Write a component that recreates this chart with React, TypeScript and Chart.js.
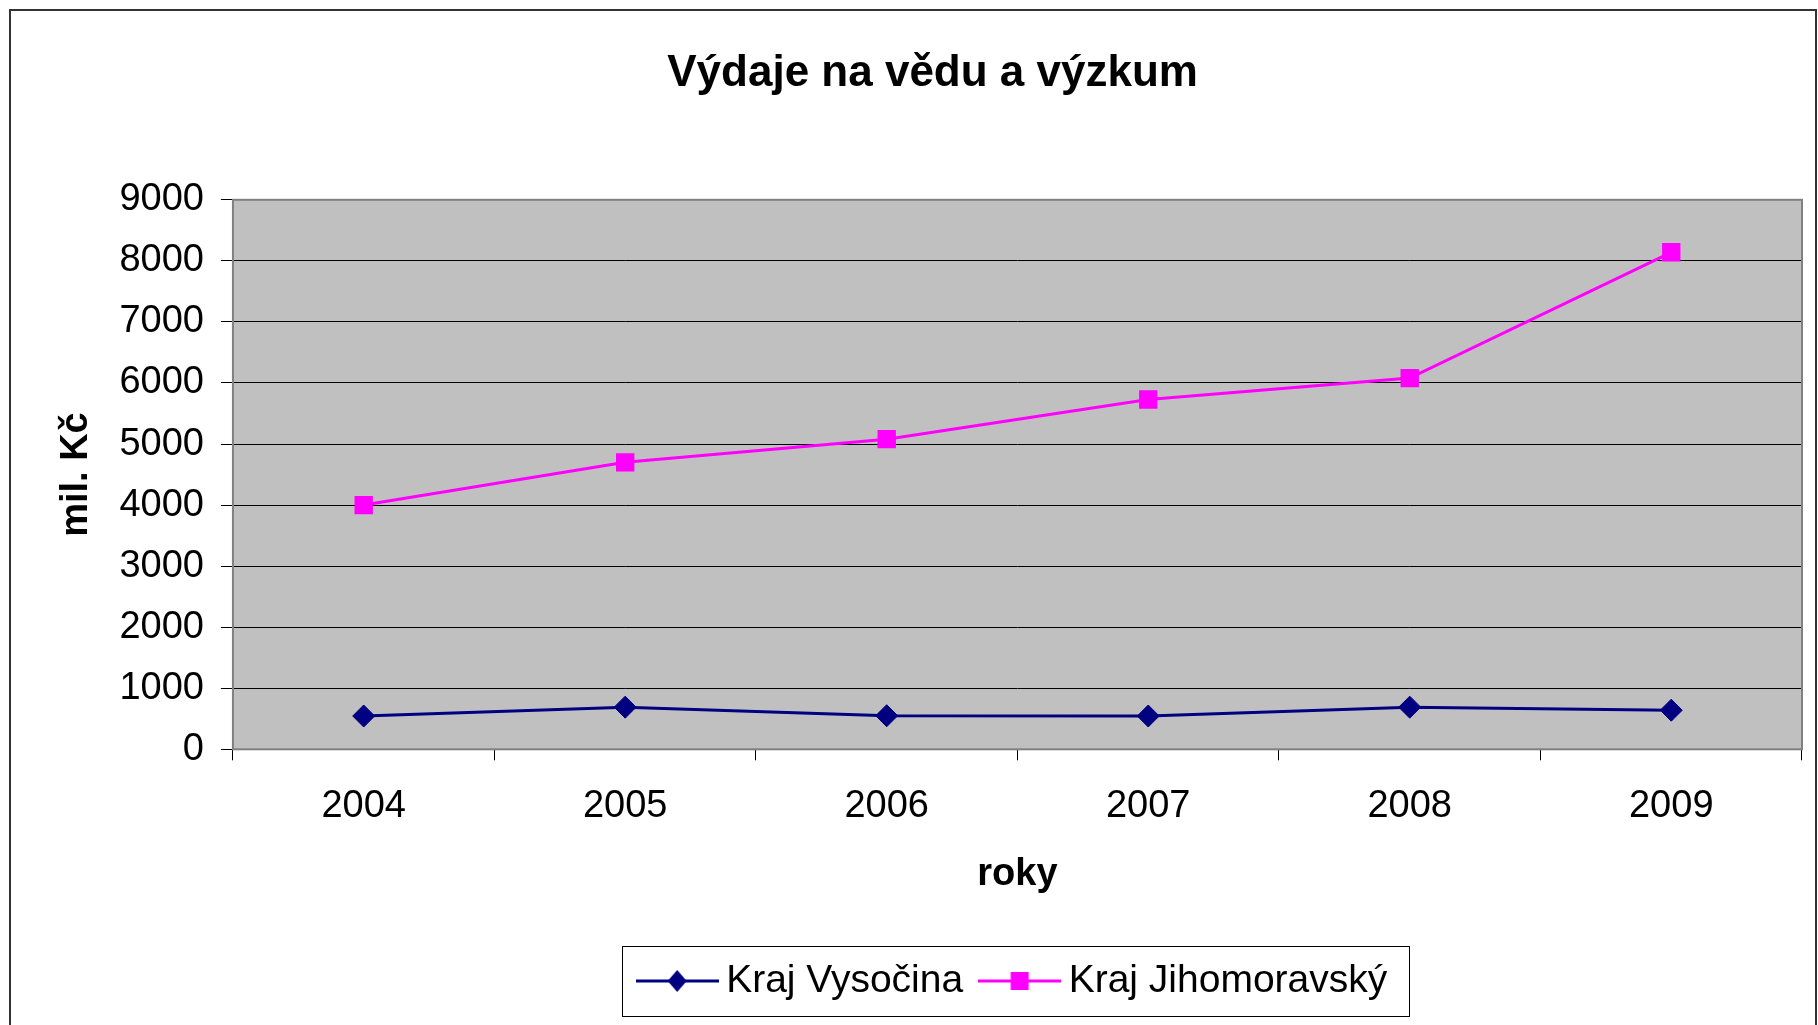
import React, { useEffect, useRef } from 'react';
import { Chart, registerables } from 'chart.js';

Chart.register(...registerables);

// ---- data ----
const years = ['2004', '2005', '2006', '2007', '2008', '2009'];
const vysocina = [545, 690, 550, 545, 690, 640];
const jihomoravsky = [4000, 4700, 5080, 5730, 6080, 8140];
const seriesNames = ['Kraj Vysočina', 'Kraj Jihomoravský'];
const chartTitle = 'Výdaje na vědu a výzkum';
const xAxisTitle = 'roky';
const yAxisTitle = 'mil. Kč';
const yMin = 0;
const yMax = 9000;
const yStep = 1000;

// ---- style ----
const FONT = '"Liberation Sans", Arial, Helvetica, sans-serif';
const NAVY = '#000080';
const MAGENTA = '#FF00FF';
const PLOT_BG = '#C0C0C0';
const PLOT_BORDER = '#808080';

function makeSample(color: string, kind: 'diamond' | 'square'): HTMLCanvasElement {
  const c = document.createElement('canvas');
  c.width = 83;
  c.height = 26;
  const ctx = c.getContext('2d')!;
  ctx.strokeStyle = color;
  ctx.lineWidth = 3;
  ctx.beginPath();
  ctx.moveTo(0, 13);
  ctx.lineTo(83, 13);
  ctx.stroke();
  ctx.fillStyle = color;
  ctx.beginPath();
  if (kind === 'diamond') {
    ctx.moveTo(41.5, 2);
    ctx.lineTo(51, 13);
    ctx.lineTo(41.5, 24);
    ctx.lineTo(32, 13);
    ctx.closePath();
  } else {
    ctx.rect(41.5 - 9, 13 - 9, 18, 18);
  }
  ctx.fill();
  return c;
}

const decoPlugin = {
  id: 'decoPlugin',
  beforeDraw(chart: any) {
    const { ctx, chartArea } = chart;
    const { left, top, right, bottom } = chartArea;
    ctx.save();
    ctx.fillStyle = PLOT_BG;
    ctx.fillRect(left, top, right - left, bottom - top);
    ctx.restore();
  },
  beforeDatasetsDraw(chart: any) {
    const { ctx, chartArea } = chart;
    const { left, top, right, bottom } = chartArea;
    ctx.save();
    ctx.strokeStyle = PLOT_BORDER;
    ctx.lineWidth = 2;
    ctx.strokeRect(left, top, right - left, bottom - top);
    ctx.restore();
  },
  afterDraw(chart: any) {
    const legend = chart.legend;
    if (!legend || !legend.legendHitBoxes || !legend.legendHitBoxes.length) return;
    const hb = legend.legendHitBoxes;
    const first = hb[0];
    const last = hb[hb.length - 1];
    const l = Math.round(first.left - 26) + 0.5;
    const r = Math.round(last.left + last.width + 22) + 0.5;
    const t = Math.round(first.top - 15.5) + 0.5;
    const b = Math.round(first.top + first.height + 15.5) + 0.5;
    const { ctx } = chart;
    ctx.save();
    ctx.strokeStyle = '#000';
    ctx.lineWidth = 1;
    ctx.strokeRect(l, t, r - l, b - t);
    ctx.restore();
  },
};

export default function App() {
  const ref = useRef<HTMLCanvasElement | null>(null);

  useEffect(() => {
    if (!ref.current) return;
    const samples = [makeSample(NAVY, 'diamond'), makeSample(MAGENTA, 'square')];
    const chart = new Chart(ref.current, {
      type: 'line',
      data: {
        labels: years,
        datasets: [
          {
            label: seriesNames[0],
            data: vysocina,
            borderColor: NAVY,
            backgroundColor: NAVY,
            borderWidth: 3,
            pointStyle: 'rectRot',
            pointRadius: 11,
            pointBorderWidth: 1,
            pointBackgroundColor: NAVY,
            pointBorderColor: NAVY,
            tension: 0,
            fill: false,
          },
          {
            label: seriesNames[1],
            data: jihomoravsky,
            borderColor: MAGENTA,
            backgroundColor: MAGENTA,
            borderWidth: 3,
            pointStyle: 'rect',
            pointRadius: 13,
            pointBorderWidth: 0,
            pointBackgroundColor: MAGENTA,
            pointBorderColor: MAGENTA,
            tension: 0,
            fill: false,
          },
        ],
      },
      options: {
        animation: false,
        responsive: false,
        devicePixelRatio: 1,
        layout: { padding: { left: 43.2, right: 4, top: 0, bottom: 14.5 } },
        plugins: {
          tooltip: { enabled: false },
          title: {
            display: true,
            text: chartTitle,
            color: '#000',
            align: 'center',
            fullSize: true,
            font: { family: FONT, size: 44, weight: 'bold', lineHeight: 1.2 },
            padding: { top: 36, bottom: 100 },
          },
          legend: {
            display: true,
            position: 'bottom',
            fullSize: false,
            labels: {
              usePointStyle: true,
              pointStyleWidth: 59,
              padding: 27,
              color: '#000',
              font: { family: FONT, size: 39 },
              generateLabels(chart: any) {
                const items = Chart.defaults.plugins.legend.labels.generateLabels(chart);
                return items.map((it: any, i: number) => ({ ...it, pointStyle: samples[i], lineWidth: 0 }));
              },
            },
          },
        },
        scales: {
          x: {
            type: 'category',
            offset: true,
            grid: {
              offset: true,
              drawOnChartArea: false,
              drawTicks: true,
              tickLength: 11,
              color: '#000',
              lineWidth: 1,
            },
            border: { display: false },
            ticks: {
              padding: 23,
              color: '#000',
              autoSkip: false,
              maxRotation: 0,
              font: { family: FONT, size: 38, lineHeight: 1.2 },
            },
            title: {
              display: true,
              text: xAxisTitle,
              color: '#000',
              font: { family: FONT, size: 38, weight: 'bold', lineHeight: 1.2 },
              padding: { top: 0, bottom: 37 },
            },
          },
          y: {
            min: yMin,
            max: yMax,
            grid: {
              color: '#000',
              lineWidth: 1,
              drawTicks: true,
              tickLength: 12,
            },
            border: { display: false },
            ticks: {
              stepSize: yStep,
              padding: 17,
              color: '#000',
              font: { family: FONT, size: 38, lineHeight: 1.2 },
              callback: (v: any) => String(v),
            },
            title: {
              display: true,
              text: yAxisTitle,
              color: '#000',
              font: { family: FONT, size: 38, weight: 'bold', lineHeight: 1.2 },
              padding: { top: 0, bottom: 2.6 },
            },
          },
        },
      },
      plugins: [decoPlugin],
    } as any);
    return () => chart.destroy();
  }, []);

  return (
    <div
      style={{
        position: 'fixed',
        left: 0,
        top: 0,
        width: 1818,
        height: 1025,
        overflow: 'hidden',
        background: '#fff',
      }}
    >
      <div
        style={{
          position: 'absolute',
          left: 9,
          top: 9,
          width: 1804,
          height: 1100,
          border: '2px solid #333',
        }}
      />
      <canvas
        ref={ref}
        width={1804}
        height={1014}
        style={{ position: 'absolute', left: 11, top: 11, width: 1804, height: 1014 }}
      />
    </div>
  );
}
